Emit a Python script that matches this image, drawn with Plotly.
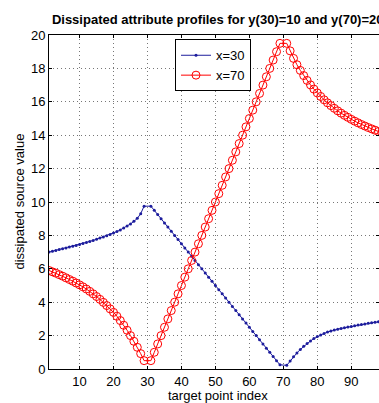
import plotly.graph_objects as go

# target point indices (source points 30 and 70 are not targets)
idx = [i for i in range(1, 101) if i not in (30, 70)]

# profile for source at x=30 (blue)
blue = [7.00, 7.05, 7.10, 7.15, 7.20, 7.25, 7.30, 7.35, 7.40, 7.46,
        7.52, 7.58, 7.64, 7.70, 7.77, 7.84, 7.91, 7.98, 8.06, 8.14,
        8.23, 8.33, 8.44, 8.56, 8.69, 8.84, 9.02, 9.30, 9.75,
        9.75, 9.50, 9.25, 9.00, 8.75, 8.50, 8.25, 8.00, 7.75, 7.50,
        7.25, 7.00, 6.75, 6.50, 6.25, 6.00, 5.75, 5.50, 5.25, 5.00,
        4.75, 4.50, 4.25, 4.00, 3.75, 3.50, 3.25, 3.00, 2.75, 2.50,
        2.25, 2.00, 1.75, 1.50, 1.25, 1.00, 0.75, 0.50, 0.25,
        0.22, 0.48, 0.73, 0.96, 1.17, 1.36, 1.53, 1.68, 1.82, 1.94,
        2.04, 2.13, 2.21, 2.28, 2.33, 2.38, 2.43, 2.47, 2.51, 2.55,
        2.59, 2.63, 2.67, 2.70, 2.74, 2.77, 2.80, 2.83, 2.86, 2.89]

# profile for source at x=70 (red)
red = [5.90, 5.82, 5.74, 5.65, 5.56, 5.46, 5.36, 5.26, 5.15, 5.04,
       4.92, 4.79, 4.65, 4.50, 4.34, 4.17, 3.99, 3.80, 3.60, 3.39,
       3.16, 2.90, 2.62, 2.32, 2.00, 1.66, 1.30, 0.92, 0.50,
       0.5, 1.0, 1.5, 2.0, 2.5, 3.0, 3.5, 4.0, 4.5, 5.0,
       5.5, 6.0, 6.5, 7.0, 7.5, 8.0, 8.5, 9.0, 9.5, 10.0,
       10.5, 11.0, 11.5, 12.0, 12.5, 13.0, 13.5, 14.0, 14.5, 15.0,
       15.5, 16.0, 16.5, 17.0, 17.5, 18.0, 18.5, 19.0, 19.5,
       19.50, 19.05, 18.60, 18.22, 17.88, 17.57, 17.28, 17.01, 16.76, 16.53,
       16.32, 16.12, 15.94, 15.77, 15.61, 15.46, 15.32, 15.19, 15.07, 14.95,
       14.84, 14.74, 14.64, 14.55, 14.46, 14.38, 14.30, 14.22, 14.15, 14.08]

x_ticks = [10, 20, 30, 40, 50, 60, 70, 80, 90]
y_ticks = [0, 2, 4, 6, 8, 10, 12, 14, 16, 18, 20]

FONT = "Liberation Sans, Arial, Helvetica, sans-serif"
BLUE = "#1c1c9c"
RED = "#ff0000"

fig = go.Figure()
fig.add_trace(go.Scatter(
    x=idx, y=blue, mode="lines+markers", name="x=30",
    line=dict(color=BLUE, width=1),
    marker=dict(size=3, color=BLUE)))
fig.add_trace(go.Scatter(
    x=idx, y=red, mode="lines+markers", name="x=70",
    line=dict(color=RED, width=1),
    marker=dict(symbol="circle-open", size=8, color=RED, line=dict(width=1, color=RED))))

axis_common = dict(
    showline=True, linecolor="black", linewidth=1, mirror="ticks",
    ticks="inside", ticklen=3, tickcolor="black", tickwidth=1,
    showgrid=True, gridcolor="#777777", gridwidth=1, griddash="1px,3px",
    zeroline=False, tickfont=dict(family=FONT, size=13, color="black"),
)

fig.update_layout(
    width=379, height=403, autosize=False,
    margin=dict(l=49, r=0, t=35, b=34, pad=0),
    paper_bgcolor="white", plot_bgcolor="white",
    font=dict(family=FONT, size=13, color="black"),
    title=dict(text="<b>Dissipated attribute profiles for y(30)=10 and y(70)=20</b>",
               x=217.7 / 379, xref="container", xanchor="center",
               y=1 - 19.5 / 403, yref="container", yanchor="middle",
               font=dict(family=FONT, size=13, color="black")),
    xaxis=dict(range=[1, 98.17], tickvals=x_ticks, **axis_common),
    yaxis=dict(range=[0, 20], tickvals=y_ticks, **axis_common),
    legend=dict(x=(175 - 49) / 330, y=(369 - 39.3) / 334, xanchor="left", yanchor="top",
                bgcolor="white", bordercolor="black", borderwidth=1,
                font=dict(family=FONT, size=13, color="black")),
    showlegend=True,
    annotations=[
        dict(text="target point index", xref="paper", yref="paper",
             x=(217.7 - 49) / 330, y=(369 - 395.5) / 334, xanchor="center", yanchor="middle",
             showarrow=False, font=dict(family=FONT, size=13, color="black")),
        dict(text="dissipated source value", xref="paper", yref="paper",
             x=(18.5 - 49) / 330, y=0.5, xanchor="center", yanchor="middle", textangle=-90,
             showarrow=False, font=dict(family=FONT, size=13, color="black")),
    ],
)

fig.write_html("out.html")
